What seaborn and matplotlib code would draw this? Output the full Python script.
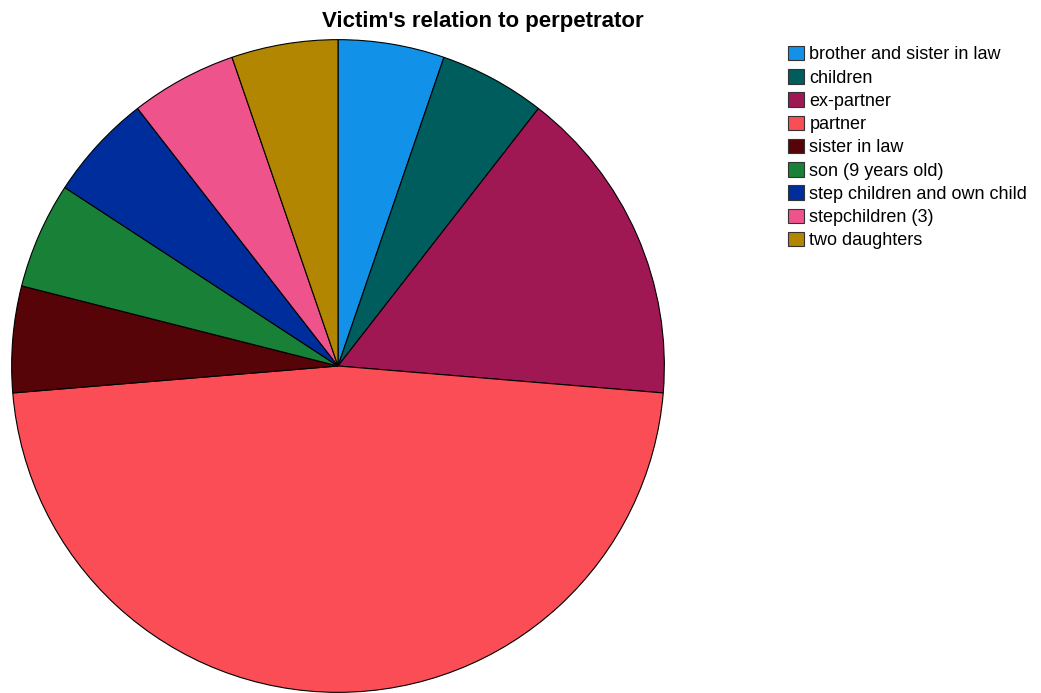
import matplotlib
matplotlib.use("Agg")
import matplotlib.pyplot as plt
import seaborn as sns
from matplotlib.patches import Patch

categories = [
    "brother and sister in law",
    "children",
    "ex-partner",
    "partner",
    "sister in law",
    "son (9 years old)",
    "step children and own child",
    "stepchildren (3)",
    "two daughters",
]
counts = [1, 1, 3, 9, 1, 1, 1, 1, 1]
colors = ["#1192e8", "#005d5d", "#9f1853", "#fa4d56", "#570408",
          "#198038", "#002d9c", "#ee538b", "#b28600"]

sns.set_theme(style="white")
plt.rcParams["font.family"] = ["Liberation Sans", "DejaVu Sans"]
plt.rcParams["text.color"] = "black"

W, H = 1041, 693
fig = plt.figure(figsize=(W / 100, H / 100), dpi=100)
fig.patch.set_facecolor("white")

cx, cy, r = 338, 366, 327
ax = fig.add_axes([(cx - r) / W, (H - cy - r) / H, 2 * r / W, 2 * r / H])
ax.pie(counts, colors=colors, startangle=90, counterclock=False, radius=1,
       wedgeprops=dict(edgecolor="black", linewidth=0.8))
ax.set_xlim(-1.002, 1.002)
ax.set_ylim(-1.002, 1.002)
ax.set_aspect("equal")
ax.axis("off")

fig.text(483 / W, 1 - 21 / H, "Victim's relation to perpetrator",
         ha="center", va="center", fontsize=16, fontweight="bold",
         color="black")

handles = [Patch(facecolor=c, edgecolor="#333333", linewidth=0.8) for c in colors]
leg = fig.legend(handles, categories, loc="upper left",
                 bbox_to_anchor=(788 / W, 1 - 46 / H), frameon=False,
                 fontsize=13, handlelength=0.9, handleheight=0.85,
                 handletextpad=0.28, labelspacing=0.32, borderaxespad=0,
                 borderpad=0)
for t in leg.get_texts():
    t.set_color("black")

fig.savefig("out.png", dpi=100)
